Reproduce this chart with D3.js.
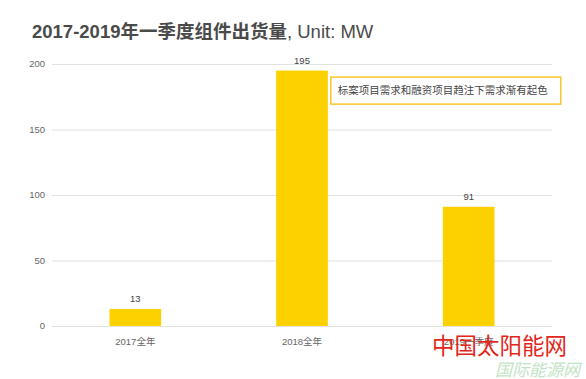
<!DOCTYPE html>
<html><head><meta charset="utf-8">
<script src="https://cdn.jsdelivr.net/npm/d3@7"></script>
<style>
body{margin:0;background:#fff;}
text{font-family:"Liberation Sans","Noto Sans CJK SC",sans-serif;}
</style></head>
<body><svg id="c" width="586" height="379"></svg>
<script>
const categories = ["2017全年", "2018全年", "2019一季度"];
const values = [13, 195, 91];
const yTicks = [0, 50, 100, 150, 200];
const titleMain = "2017-2019年一季度组件出货量";
const titleUnit = ", Unit: MW";
const note = "标案项目需求和融资项目趋注下需求渐有起色";

const svg = d3.select("#c");
const m = {left: 52, right: 34, top: 64, bottom: 53};
const W = 586, H = 379;

const x = d3.scaleBand().domain(categories).range([m.left, W - m.right])
  .paddingInner(0.69).paddingOuter(0.345);
const y = d3.scaleLinear().domain([0, 200]).range([H - m.bottom, m.top]);

// title
const t = svg.append("text").attr("x", 32).attr("y", 38).attr("fill", "#4a4a4a").attr("font-size", 18.5);
t.append("tspan").attr("font-weight", "bold").text(titleMain);
t.append("tspan").attr("font-weight", "normal").text(titleUnit);

// grid
svg.append("g").selectAll("line").data(yTicks).join("line")
  .attr("x1", m.left).attr("x2", W - m.right)
  .attr("y1", d => y(d) + 0.5).attr("y2", d => y(d) + 0.5)
  .attr("stroke", "#e2e2e2").attr("stroke-width", 1);

// y axis labels
svg.append("g").selectAll("text").data(yTicks).join("text")
  .attr("x", 45).attr("y", d => y(d)).attr("dy", "0.35em")
  .attr("text-anchor", "end").attr("font-size", 9.5).attr("fill", "#666")
  .text(d => d);

// bars
svg.append("g").selectAll("rect").data(values).join("rect")
  .attr("x", (d, i) => x(categories[i])).attr("width", x.bandwidth())
  .attr("y", d => y(d)).attr("height", d => y(0) - y(d))
  .attr("fill", "#FDD000");

// value labels
svg.append("g").selectAll("text").data(values).join("text")
  .attr("x", (d, i) => x(categories[i]) + x.bandwidth() / 2)
  .attr("y", d => y(d) - 7)
  .attr("text-anchor", "middle").attr("font-size", 9.5).attr("fill", "#444")
  .text(d => d);

// category labels
svg.append("g").selectAll("text").data(categories).join("text")
  .attr("x", d => x(d) + x.bandwidth() / 2).attr("y", y(0) + 19)
  .attr("text-anchor", "middle").attr("font-size", 9.5).attr("fill", "#666")
  .text(d => d);

// annotation
const bx = x(categories[1]) + x.bandwidth() + 3;
svg.append("rect").attr("x", bx).attr("y", y(190)).attr("width", 230).attr("height", 27)
  .attr("fill", "#fff").attr("stroke", "#F9C52A").attr("stroke-width", 1.5);
svg.append("text").attr("x", bx + 7).attr("y", y(190) + 13.5).attr("dy", "0.35em")
  .attr("font-size", 10.5).attr("fill", "#444").text(note);

// watermark
svg.append("text").attr("x", 432).attr("y", 354).attr("font-size", 22.5)
  .attr("fill", "#E3261B").attr("font-family", "Noto Sans CJK SC").text("中国太阳能网");
svg.append("text").attr("x", 495).attr("y", 376).attr("font-size", 17)
  .attr("fill", "#c3e3c5").attr("font-style", "italic")
  .attr("font-family", "Noto Sans CJK SC").text("国际能源网");
</script></body></html>
